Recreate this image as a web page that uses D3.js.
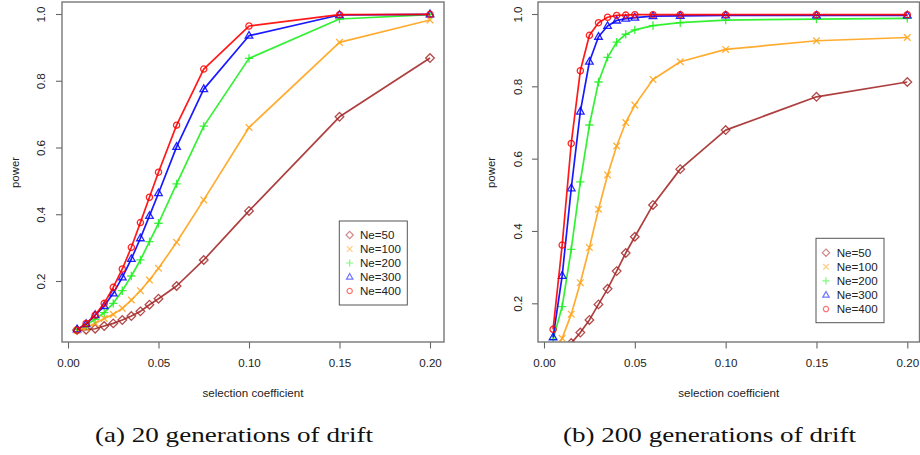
<!DOCTYPE html>
<html>
<head>
<meta charset="utf-8">
<script src="https://cdn.jsdelivr.net/npm/d3@7"></script>
<style>
  html, body { margin: 0; padding: 0; background: #fff; }
  svg { display: block; }
</style>
</head>
<body>
<svg id="chart" width="920" height="455"></svg>
<script>
// ---------------- DATA ----------------
const selCoef = [0.005, 0.01, 0.015, 0.02, 0.025, 0.03, 0.035, 0.04, 0.045, 0.05, 0.06, 0.075, 0.10, 0.15, 0.20];
const seriesNames = ["Ne=50", "Ne=100", "Ne=200", "Ne=300", "Ne=400"];
const xTicks = [0.00, 0.05, 0.10, 0.15, 0.20];
const yTicks = [0.2, 0.4, 0.6, 0.8, 1.0];

// (a) 20 generations of drift
const g20_ne50  = [0.053, 0.054, 0.057, 0.065, 0.073, 0.083, 0.095, 0.109, 0.129, 0.147, 0.185, 0.263, 0.410, 0.692, 0.868];
const g20_ne100 = [0.052, 0.060, 0.073, 0.088, 0.100, 0.118, 0.143, 0.171, 0.203, 0.238, 0.316, 0.443, 0.660, 0.915, 0.982];
const g20_ne200 = [0.055, 0.068, 0.085, 0.105, 0.133, 0.171, 0.215, 0.263, 0.318, 0.373, 0.491, 0.664, 0.867, 0.985, 0.998];
const g20_ne300 = [0.055, 0.071, 0.098, 0.125, 0.163, 0.211, 0.266, 0.328, 0.395, 0.463, 0.602, 0.775, 0.935, 0.997, 0.999];
const g20_ne400 = [0.053, 0.073, 0.098, 0.133, 0.181, 0.236, 0.301, 0.375, 0.451, 0.526, 0.667, 0.835, 0.964, 0.998, 0.999];

// (b) 200 generations of drift
const g200_ne50  = [0.055, 0.070, 0.090, 0.119, 0.154, 0.197, 0.240, 0.289, 0.339, 0.384, 0.472, 0.571, 0.679, 0.771, 0.812];
const g200_ne100 = [0.060, 0.103, 0.170, 0.257, 0.354, 0.460, 0.555, 0.635, 0.700, 0.748, 0.819, 0.868, 0.902, 0.926, 0.935];
const g200_ne200 = [0.100, 0.191, 0.349, 0.536, 0.693, 0.812, 0.880, 0.922, 0.944, 0.956, 0.968, 0.976, 0.983, 0.986, 0.988];
const g200_ne300 = [0.106, 0.276, 0.518, 0.730, 0.868, 0.937, 0.967, 0.982, 0.987, 0.990, 0.994, 0.995, 0.996, 0.996, 0.996];
const g200_ne400 = [0.128, 0.361, 0.642, 0.843, 0.941, 0.976, 0.991, 0.996, 0.997, 0.998, 0.998, 0.998, 0.998, 0.998, 0.998];

const captions = ["(a) 20 generations of drift", "(b) 200 generations of drift"];

// ---------------- STYLE ----------------
const colors = ["#A52A2A", "#FFA31A", "#1EF01E", "#0000FF", "#FF0000"];
const shapes = ["diamond", "cross", "plus", "triangle", "circle"];

const svg = d3.select("#chart");

function symbolPath(shape, s) {
  switch (shape) {
    case "diamond": { const r = 4.3 * s; return `M0,${-r}L${r},0L0,${r}L${-r},0Z`; }
    case "cross":   { const r = 3.3 * s; return `M${-r},${-r}L${r},${r}M${-r},${r}L${r},${-r}`; }
    case "plus":    { const r = 4.2 * s; return `M${-r},0L${r},0M0,${-r}L0,${r}`; }
    case "triangle":{ const r = 4.0 * s; return `M0,${-r*1.05}L${r*0.95},${r*0.62}L${-r*0.95},${r*0.62}Z`; }
    case "circle":  { const r = 3.1 * s; return `M${r},0A${r},${r} 0 1,1 ${-r},0A${r},${r} 0 1,1 ${r},0Z`; }
  }
}

const panels = [
  { id: "a", series: [g20_ne50, g20_ne100, g20_ne200, g20_ne300, g20_ne400],
    box: [62, 444, 2, 342],
    xRange: [68, 430],
    yDomain: [0, 1], yRange: [347.75, 14],
    legend: { x: 339.3, y: 221, w: 68, h: 84, symX: 349.7, textX: 360, row0: 235, step: 14.0 },
    caption: { x: 95, y: 442, len: 278 } },
  { id: "b", series: [g200_ne50, g200_ne100, g200_ne200, g200_ne300, g200_ne400],
    box: [538, 919.5, 2, 342],
    xRange: [544, 907.3],
    yDomain: [0.2, 1], yRange: [303.3, 14],
    legend: { x: 816, y: 238.3, w: 68, h: 84.4, symX: 826, textX: 836.7, row0: 252.7, step: 14.1 },
    caption: { x: 563, y: 442, len: 293 } }
];

const tickFont = "'Liberation Sans', Arial, Helvetica, sans-serif";

panels.forEach((p, pi) => {
  const [bx0, bx1, by0, by1] = p.box;
  const x = d3.scaleLinear().domain([0, 0.2]).range(p.xRange);
  const y = d3.scaleLinear().domain(p.yDomain).range(p.yRange);
  const g = svg.append("g");

  const clipId = "clip" + p.id;
  svg.append("clipPath").attr("id", clipId)
    .append("rect").attr("x", bx0).attr("y", by0).attr("width", bx1 - bx0).attr("height", by1 - by0);

  // x axis
  const xa = g.append("g").attr("transform", `translate(0,${by1})`)
    .call(d3.axisBottom(x).tickValues(xTicks).tickFormat(d3.format(".2f")).tickSize(6.5).tickPadding(10.5));
  xa.select(".domain").remove();
  xa.selectAll("line").attr("stroke", "#666").attr("stroke-width", 1.1);
  xa.selectAll("text").attr("font-family", tickFont).attr("font-size", "11.6px").attr("fill", "#222");

  // y axis
  const ya = g.append("g").attr("transform", `translate(${bx0},0)`)
    .call(d3.axisLeft(y).tickValues(yTicks).tickFormat(d3.format(".1f")).tickSize(6));
  ya.select(".domain").remove();
  ya.selectAll("line").attr("stroke", "#666").attr("stroke-width", 1.1);
  ya.selectAll("text")
    .attr("transform", "rotate(-90)")
    .attr("x", 0).attr("y", pi === 0 ? -17 : -16.5).attr("dy", null)
    .attr("text-anchor", "middle")
    .attr("font-family", tickFont).attr("font-size", "11.6px").attr("fill", "#222");

  // axis titles
  g.append("text")
    .attr("x", (bx0 + bx1) / 2).attr("y", 396.5)
    .attr("text-anchor", "middle")
    .attr("font-family", tickFont).attr("font-size", "11.6px").attr("fill", "#222")
    .text("selection coefficient");
  g.append("text")
    .attr("transform", `translate(${bx0 - 43.5},${172.5}) rotate(-90)`)
    .attr("text-anchor", "middle")
    .attr("font-family", tickFont).attr("font-size", "11.4px").attr("fill", "#222")
    .text("power");

  // series
  const plot = g.append("g").attr("clip-path", `url(#${clipId})`);
  const line = d3.line().x(d => x(d.s)).y(d => y(d.v));
  p.series.forEach((vals, si) => {
    const pts = vals.map((v, i) => ({ s: selCoef[i], v }));
    const sg = plot.append("g");
    sg.append("path").datum(pts)
      .attr("d", line)
      .attr("fill", "none")
      .attr("stroke", colors[si])
      .attr("stroke-width", 1.7)
      .attr("stroke-opacity", 0.9)
      .attr("stroke-linejoin", "round");
    sg.selectAll("path.pt").data(pts.filter(d => y(d.v) <= by1 + 2))
      .join("path").attr("class", "pt")
      .attr("transform", d => `translate(${x(d.s)},${y(d.v)})`)
      .attr("d", symbolPath(shapes[si], 1))
      .attr("fill", "none")
      .attr("stroke", colors[si])
      .attr("stroke-width", 1.3)
      .attr("stroke-opacity", 0.85);
  });

  // box
  g.append("rect")
    .attr("x", bx0).attr("y", by0).attr("width", bx1 - bx0).attr("height", by1 - by0)
    .attr("fill", "none").attr("stroke", "#777").attr("stroke-width", 1.4);

  // legend
  const L = p.legend;
  const lg = g.append("g");
  lg.append("rect").attr("x", L.x).attr("y", L.y).attr("width", L.w).attr("height", L.h)
    .attr("fill", "#fff").attr("stroke", "#555").attr("stroke-width", 1);
  seriesNames.forEach((name, si) => {
    const cy = L.row0 + si * L.step;
    lg.append("path")
      .attr("transform", `translate(${L.symX},${cy})`)
      .attr("d", symbolPath(shapes[si], 0.85))
      .attr("fill", "none").attr("stroke", colors[si]).attr("stroke-width", 1.2).attr("stroke-opacity", 0.55);
    lg.append("text")
      .attr("x", L.textX).attr("y", cy + 4.2)
      .attr("font-family", tickFont).attr("font-size", "11.6px").attr("fill", "#222")
      .text(name);
  });

  // caption
  svg.append("text")
    .attr("x", p.caption.x).attr("y", p.caption.y)
    .attr("font-family", "'Liberation Serif', 'Times New Roman', serif")
    .attr("font-size", "21px").attr("fill", "#111")
    .attr("textLength", p.caption.len).attr("lengthAdjust", "spacingAndGlyphs")
    .text(captions[pi]);
});
</script>
</body>
</html>
